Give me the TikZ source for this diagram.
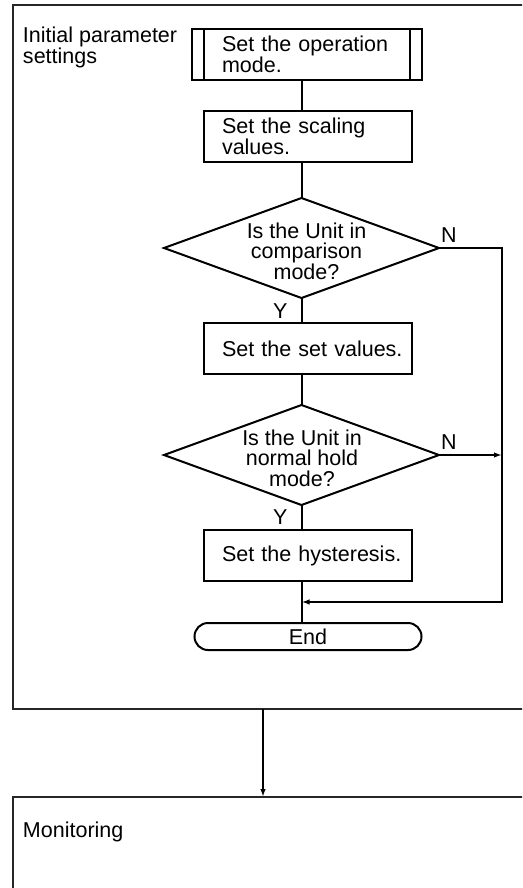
\documentclass[tikz,border=0pt]{standalone}
\usepackage{fontspec}
\setmainfont{Liberation Sans}
\usetikzlibrary{positioning, arrows.meta, calc, shapes.geometric, shapes.misc}

\begin{document}
\begin{tikzpicture}[x=1pt, y=-1pt,
      every node/.style={font=\fontsize{21.5}{20.5}\selectfont, outer sep=0pt},
      framebox/.style={draw=black!85, line width=1.3pt, minimum width=530pt, inner sep=0pt},
      stepbox/.style={draw, line width=2pt, minimum width=208pt, minimum height=51pt, text width=196pt, inner xsep=6pt, inner ysep=0pt, align=left, execute at begin node={\leftskip=12pt}},
      prebox/.style={stepbox, minimum width=230pt, execute at begin node={\leftskip=13pt}},
      decision/.style={diamond, draw, line width=2pt, minimum width=275pt, minimum height=100pt, inner sep=0pt},
      asktext/.style={align=center, inner sep=0pt},
      endbox/.style={rounded rectangle, draw, line width=2pt, minimum width=227pt, minimum height=27pt, inner sep=0pt},
      flow/.style={line width=2pt},
      flowarrow/.style={flow, -{Latex[length=8pt, width=5.5pt]}}
    ]
      \useasboundingbox (0,0) rectangle (522,888);
      \clip (0,0) rectangle (522,888);

      % the two outer frames
      \node [framebox, anchor=north west, minimum height=704pt] (init) at (13,5) {};
      \node [framebox, below right=88pt and 0pt of init.south west, minimum height=120pt] (mon) {};
      \node [anchor=north west, align=left, inner sep=0pt, below right=22pt and 10pt of init.north west] (initlabel) {Initial parameter\\settings};
      \node [anchor=north west, inner sep=0pt, below right=25pt and 10pt of mon.north west] (monlabel) {Monitoring};

      % flow chart
      \node [prebox] (op) at (307,54.5) {Set the operation\\mode.};
      \node [stepbox, below=31pt of op, xshift=1pt] (sc) {Set the scaling\\values.};
      \node [decision, below=36pt of sc, xshift=-6.5pt] (d1) {};
      \node [asktext, xshift=5pt, yshift=-3pt] (q1) at (d1.center) {Is the Unit in\\comparison\\mode?};
      \node [stepbox, below=25pt of d1, xshift=6.5pt] (sv) {Set the set values.};
      \node [decision, below=31pt of sv, xshift=-6.5pt] (d2) {};
      \node [asktext, xshift=0.5pt, yshift=-3pt] (q2) at (d2.center) {Is the Unit in\\normal hold\\mode?};
      \node [stepbox, below=25pt of d2, xshift=6.5pt] (hy) {Set the hysteresis.};
      \node [endbox, below=42pt of hy] (en) {End};

      % branch labels
      \node [inner sep=0pt, above right=6pt and 2pt of d1.east] (n1) {N};
      \node [inner sep=0pt, above right=6pt and 2pt of d2.east] (n2) {N};
      \node [inner sep=0pt, below left=6pt and 14pt of d1.south] (y1) {Y};
      \node [inner sep=0pt, below left=5pt and 14pt of d2.south] (y2) {Y};

      \draw [flow] ([xshift=12pt]op.north west) -- ([xshift=12pt]op.south west);
      \draw [flow] ([xshift=-12pt]op.north east) -- ([xshift=-12pt]op.south east);

      \coordinate (bend) at ([xshift=63pt]d1.east);
      \coordinate (merge) at ($(hy.south)!0.5!(en.north)$);
      \coordinate (link) at (263,0);

      \draw [flow] (op.south -| d1.north) -- (sc.north -| d1.north);
      \draw [flow] (sc.south -| d1.north) -- (d1.north);
      \draw [flow] (d1.south) -- (sv.north -| d1.south);
      \draw [flow] (sv.south -| d2.north) -- (d2.north);
      \draw [flow] (d2.south) -- (hy.north -| d2.south);
      \draw [flow] (hy.south -| d2.south) -- (en.north -| d2.south);
      \draw [flowarrow] (d1.east) -| (bend |- merge) -- (merge -| d2.south);
      \draw [flowarrow] (d2.east) -- (d2.east -| bend);
      \draw [flowarrow] (init.south -| link) -- (mon.north -| link);
    \end{tikzpicture}
\end{document}
